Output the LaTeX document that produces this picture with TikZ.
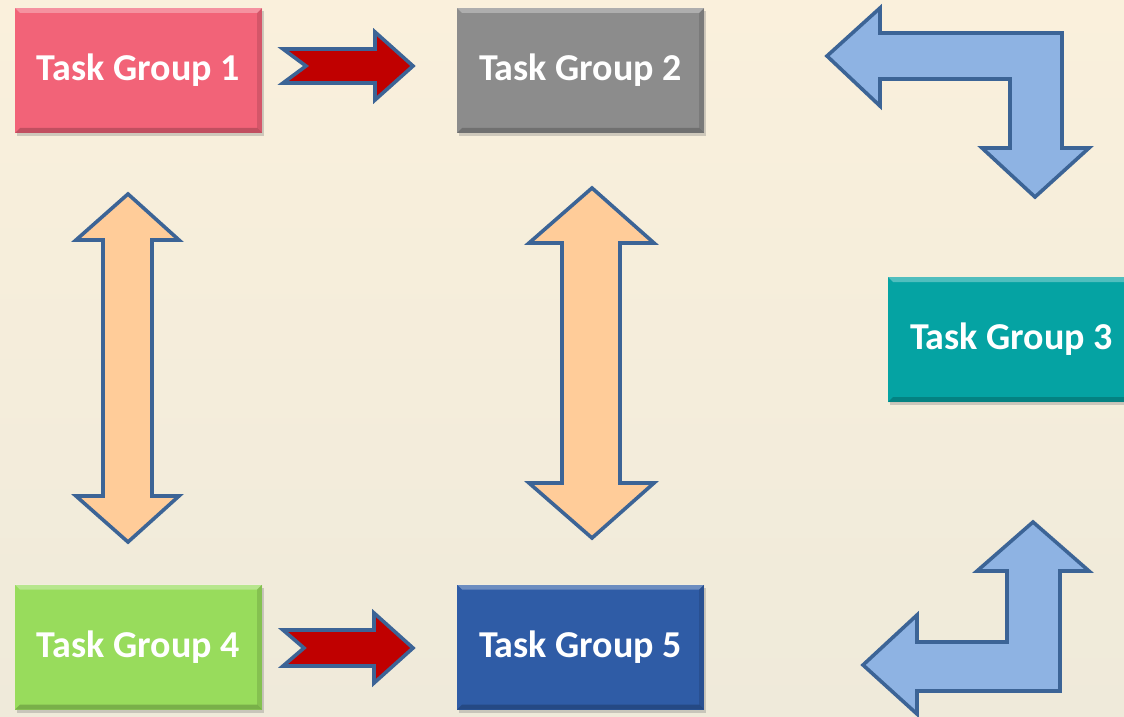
\documentclass[tikz,border=0pt]{standalone}
\usepackage{fontspec}
\setmainfont{Carlito}
\usetikzlibrary{shadows}

\definecolor{bgtop}{HTML}{FAF0DC}
\definecolor{bgbottom}{HTML}{EFEADA}
\definecolor{tgpink}{HTML}{F26378}
\definecolor{tggray}{HTML}{8C8C8C}
\definecolor{tgteal}{HTML}{05A3A3}
\definecolor{tggreen}{HTML}{98DC5C}
\definecolor{tgblue}{HTML}{2F5CA6}
\definecolor{arrowred}{HTML}{C00000}
\definecolor{arroworange}{HTML}{FFCC99}
\definecolor{arrowblue}{HTML}{8EB3E3}
\definecolor{arrowedge}{HTML}{3C6496}

\tikzset{
  tgbox/.style={rectangle, minimum width=123.5pt, minimum height=62.5pt,
    text=white, font=\bfseries\fontsize{19}{22}\selectfont,
    drop shadow={opacity=0.35, shadow xshift=1.2pt, shadow yshift=-1.5pt},
    path picture={
      \fill[white, opacity=0.3] (path picture bounding box.north west) -- (path picture bounding box.north east)
        -- ([shift={(-2.5pt,-2.5pt)}]path picture bounding box.north east) -- ([shift={(2.5pt,-2.5pt)}]path picture bounding box.north west) -- cycle;
      \fill[black, opacity=0.2] (path picture bounding box.south west) -- (path picture bounding box.south east)
        -- ([shift={(-2.5pt,2.5pt)}]path picture bounding box.south east) -- ([shift={(2.5pt,2.5pt)}]path picture bounding box.south west) -- cycle;
      \fill[black, opacity=0.12] (path picture bounding box.north east) -- (path picture bounding box.south east)
        -- ([shift={(-2.5pt,2.5pt)}]path picture bounding box.south east) -- ([shift={(-2.5pt,-2.5pt)}]path picture bounding box.north east) -- cycle;
    }},
  redarrow/.style={fill=arrowred, draw=arrowedge, line width=1.8pt, line join=miter},
  tallarrow/.style={fill=arroworange, draw=arrowedge, line width=1.8pt, line join=miter},
  bentarrow/.style={fill=arrowblue, draw=arrowedge, line width=1.8pt, line join=miter}
}

\begin{document}
\begin{tikzpicture}[x=0.5pt, y=-0.5pt]
    % background
    \useasboundingbox (0,0) rectangle (1124,717);
    \shade[top color=bgtop, bottom color=bgbottom] (0,0) rectangle (1124,717);

    % task groups
    \node[tgbox, fill=tgpink] (tg1) at (138.5,70.5) {\raisebox{-1pt}{Task Group 1}};
    \node[tgbox, fill=tggray] (tg2) at (580.5,70.5) {\raisebox{-1pt}{Task Group 2}};
    \node[tgbox, fill=tgteal] (tg3) at (1011.5,339.5) {\raisebox{-1pt}{Task Group 3}};
    \node[tgbox, fill=tggreen] (tg4) at (138.5,647) {\raisebox{-1pt}{Task Group 4}};
    \node[tgbox, fill=tgblue] (tg5) at (580.5,647) {\raisebox{-1pt}{Task Group 5}};

    % notched arrows
    \draw[redarrow, shift={(283,66)}] (0,-17)--(92,-17)--(92,-34)--(130,0)--(92,34)--(92,17)--(0,17)--(23,0)--cycle;
    \draw[redarrow, shift={(283,648)}] (0,-18)--(91,-18)--(91,-35)--(130,0)--(91,35)--(91,18)--(0,18)--(21,0)--cycle;

    % up-down arrows
    \draw[tallarrow] (128,194)--(179,240)--(152,240)--(152,496)--(179,496)--(128,542)
        --(76,496)--(103,496)--(103,240)--(76,240)--cycle;
    \draw[tallarrow] (592,188)--(654,243)--(620,243)--(620,483)--(654,483)--(592,538)
        --(529,483)--(562,483)--(562,243)--(529,243)--cycle;

    % bent arrows
    \draw[bentarrow] (827,56)--(880,8)--(880,33)--(1062,33)--(1062,148)--(1089,148)--(1035,197)
        --(982,148)--(1010,148)--(1010,79)--(880,79)--(880,106)--cycle;
    \draw[bentarrow] (1033,522)--(1089,571)--(1060,571)--(1060,691)--(917,691)--(917,714)--(863,665)
        --(917,615)--(917,642)--(1007,642)--(1007,571)--(977,571)--cycle;
\end{tikzpicture}
\end{document}
